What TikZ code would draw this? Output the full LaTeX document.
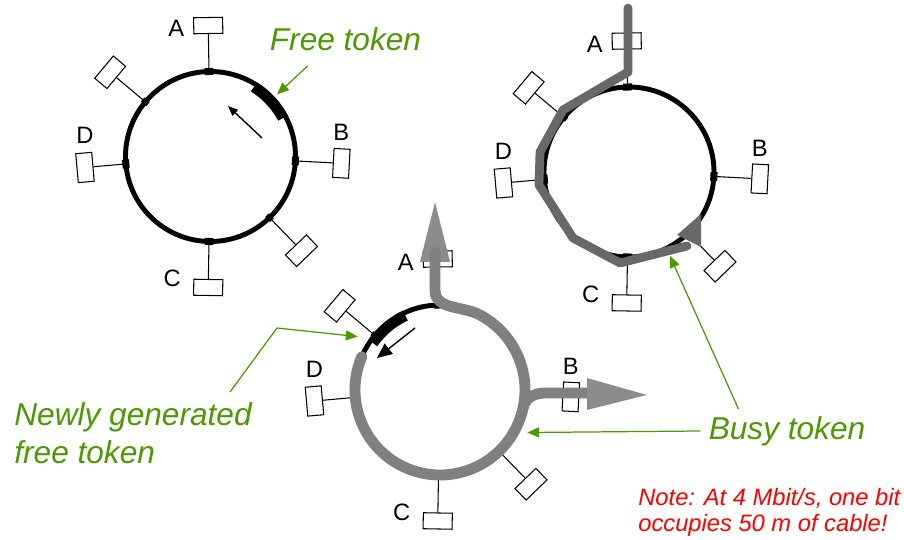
\documentclass[tikz,border=0pt]{standalone}
\usepackage{fontspec}
\setmainfont{Liberation Sans}
\usetikzlibrary{calc,arrows.meta}
\definecolor{tokengreen}{RGB}{76,153,0}
\definecolor{busygray}{RGB}{128,128,128}
\definecolor{busydark}{RGB}{104,104,104}
\definecolor{headgray}{RGB}{140,140,140}

\begin{document}
\begin{tikzpicture}[
    x=0.02cm, y=0.02cm,
    % ring cable and the stations hanging on it
    ring/.style={draw, line width=2.8pt},
    station/.style={
        draw,
        line width=0.6pt,
        fill=white,
        minimum width=0.58cm,
        minimum height=0.32cm,
        inner sep=0pt
    },
    tapline/.style={line width=0.6pt},
    attach/.style={fill=black, inner sep=0pt, minimum height=4pt},
    lbl/.style={font=\fontsize{13.5}{15}\selectfont, inner sep=0pt},
    token/.style={line width=6.2pt},
    busy/.style={draw=busygray, line width=6.2pt, line cap=round, line join=round},
    flow/.style={line width=0.8pt},
    pointer/.style={draw=tokengreen, line width=0.7pt, -{Triangle[length=0.24cm, width=0.2cm]}},
    callout/.style={text=tokengreen, font=\fontsize{18}{22}\selectfont\itshape, align=left, inner sep=0pt},
    note/.style={text=red, font=\fontsize{13.5}{14.5}\selectfont\itshape, align=left, inner sep=0pt}
]
    \useasboundingbox (0,0) rectangle (904,-540);

    % three copies of the ring with its six stations
    \foreach \r/\cx/\cy in {one/210.5/-156.5, two/629/-172, three/440/-390} {
        \coordinate (\r) at (\cx,\cy);
        \draw[ring] (\r) circle[radius=85];
        \foreach \s/\a/\d/\m in {a/91/131/5pt, b/-3/131/5pt, c/269/131/5pt,
                                 d/185/126/5pt, e/140/131/3pt, f/-46/131/3pt} {
            \coordinate (\r-\s-tap) at ($(\r)+(\a:85)$);
            \node[station, rotate=\a-90] (\r-\s) at ($(\r)+(\a:\d)$) {};
            \draw[tapline] (\r-\s-tap) -- (\r-\s);
            \node[attach, minimum width=\m, rotate=\a-90] (\r-\s-att) at (\r-\s-tap) {};
        }
        \node[lbl] (\r-la) at ($(\r-a)+(-32,-3)$) {A};
        \node[lbl] (\r-lb) at ($(\r-b)+(0,31)$) {B};
        \node[lbl] (\r-lc) at ($(\r-c)+(-36,9)$) {C};
        \node[lbl] (\r-ld) at ($(\r-d)+(0,32)$) {D};
    }

    % --- ring one: free token going round ---
    \draw[token] (one) ++(28:82) arc[start angle=28, end angle=58, radius=82];
    \draw[flow, -{Triangle[length=0.2cm, width=0.16cm]}, shift={(one)}] (51.5,18.5) -- (17.5,50.5);

    \node[callout] (freetok) at (345.5,-39) {Free token};
    \draw[pointer] ($(freetok.south west)+(38,-15)$) -- ($(one)+(43:91)$);

    % --- ring two: busy token, frame runs from A round to the far side ---
    \draw[busy, draw=busydark, line width=5pt, shift={(two)}]
        (-1,164) -- (-1,100) -- (-66,62) -- (-89,20) -- (-90,-13)
        -- (-56,-66) -- (-9,-91) -- (58,-74);
    \fill[busydark, shift={(two)}] (48,-63) -- (72,-42) -- (72,-75) -- cycle;

    % --- ring three: frame drained at A and B, new free token behind it ---
    \draw[token] (three) ++(115:82) arc[start angle=115, end angle=145, radius=82];

    \fill[headgray, shift={(three)}] (-20,128) -- (10,128) -- (-5,188) -- cycle;
    \draw[busy] (three) ++(157:85) arc[start angle=157, end angle=422, radius=85]
        to[out=152, in=-90] ($(three)+(-5,100)$) -- ($(three)+(-5,138)$);
    \draw[busy] ($(three)+(-12:85)$) to[out=78, in=180] ($(three)+(105,-3)$)
        -- ($(three)+(148,-3)$);
    \fill[headgray, shift={(three)}] (147,12) -- (147,-20) -- (207,-5) -- cycle;

    \draw[flow, -{Triangle[length=0.3cm, width=0.26cm]}, shift={(three)}] (-25,62) -- (-63,32);

    % --- callouts ---
    \node[callout, anchor=north west] (newtok) at (14,-402) {Newly generated\\free token};
    \draw[pointer] ($(newtok.north west)+(216,10)$) -- ++(47,64) -- ($(three)+(147:98)$);

    \node[callout] (busytok) at (787,-431) {Busy token};
    \draw[pointer] ($(busytok.west)+(-8,0)$) -- ($(three)+(-26:97)$);
    \draw[pointer] ($(busytok.north west)+(30,7)$) -- ($(two)+(-64:93)$);

    \node[note, anchor=north west] (bitnote) at (638,-488) {Note: At 4 Mbit/s, one bit\\occupies 50 m of cable!};
\end{tikzpicture}
\end{document}
